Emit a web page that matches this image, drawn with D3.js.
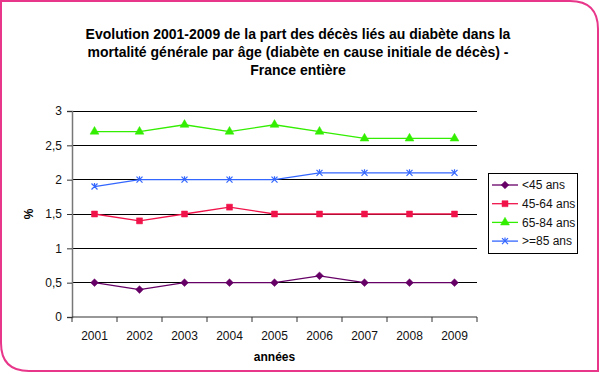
<!DOCTYPE html>
<meta charset="utf-8">
<script src="https://d3js.org/d3.v7.min.js"></script>
<style>
	body{ margin:0; background:#fff; }
	text{ font-family:"Liberation Sans", Arial, sans-serif; }
</style>
<div id="chart"></div>
<script>

// data (% of deaths linked to diabetes)
var years = ["2001","2002","2003","2004","2005","2006","2007","2008","2009"]
var seriesNames = ["<45 ans","45-64 ans","65-84 ans",">=85 ans"]
var under45 = [0.5,0.4,0.5,0.5,0.5,0.6,0.5,0.5,0.5]
var age45to64 = [1.5,1.4,1.5,1.6,1.5,1.5,1.5,1.5,1.5]
var age65to84 = [2.7,2.7,2.8,2.7,2.8,2.7,2.6,2.6,2.6]
var over85 = [1.9,2.0,2.0,2.0,2.0,2.1,2.1,2.1,2.1]
var yTicks = [0,0.5,1,1.5,2,2.5,3]
var titleLines = ["Evolution 2001-2009 de la part des décès liés au diabète dans la",
	"mortalité générale par âge (diabète en cause initiale de décès) -",
	"France entière"]

var colors = ["#660066","#F0134A","#33EE00","#3366FF"]
var symbols = ["diamond","square","triangle","x"]
var allSeries = [under45, age45to64, age65to84, over85]

const W = 600, H = 374
const plot = {left:72, right:477, top:111, bottom:317}

const svg = d3.select("#chart").append("svg")
	.attr("width",W).attr("height",H)

// pink frame, rounded top-right and bottom-left
var r = 28, x0 = 1, y0 = 1, x1 = 598, y1 = 371
svg.append("path")
	.attr("d", "M"+x0+","+y0+" L"+(x1-r)+","+y0+" Q"+x1+","+y0+" "+x1+","+(y0+r)
		+" L"+x1+","+y1+" L"+(x0+r)+","+y1+" Q"+x0+","+y1+" "+x0+","+(y1-r)+" Z")
	.attr("fill","#fff").attr("stroke","#E8368A").attr("stroke-width",2)

// title
svg.append("g").selectAll("text").data(titleLines).join("text")
	.attr("x",298).attr("y",(d,i)=>38.5+i*18.2)
	.attr("text-anchor","middle")
	.attr("font-size","14px").attr("font-weight","bold")
	.text(d=>d)

var xScale = d3.scaleBand().domain(years).range([plot.left,plot.right]).padding(0)
var yScale = d3.scaleLinear().domain([0,3]).range([plot.bottom,plot.top])
var fmt = d3.formatLocale({decimal:",",thousands:" ",grouping:[3],currency:["","€"]}).format("~g")

// gridlines
svg.append("g").selectAll("line").data(yTicks.filter(d=>d>0)).join("line")
	.attr("x1",plot.left).attr("x2",plot.right)
	.attr("y1",d=>yScale(d)).attr("y2",d=>yScale(d))
	.attr("stroke","#000").attr("stroke-width",1)
	.attr("shape-rendering","crispEdges")

// y axis
var yAxis = d3.axisLeft(yScale).tickValues(yTicks).tickSize(5).tickPadding(5).tickFormat(fmt)
var gy = svg.append("g").attr("transform","translate("+plot.left+",0)").call(yAxis)
gy.select(".domain").attr("stroke","#777").attr("stroke-width",1.5)
gy.selectAll(".tick line").attr("stroke","#333")
gy.selectAll("text").attr("font-size","12px").attr("fill","#111")
	.attr("font-family","Liberation Sans, Arial, sans-serif")

// x axis: ticks between categories, labels centred
var gx = svg.append("g").attr("transform","translate(0,"+plot.bottom+")")
gx.append("line").attr("x1",plot.left).attr("x2",plot.right)
	.attr("stroke","#333").attr("stroke-width",1.2)
var bounds = years.map(d=>xScale(d)).concat([xScale.range()[1]])
gx.selectAll(".xt").data(bounds).join("line").attr("class","xt")
	.attr("x1",d=>d).attr("x2",d=>d).attr("y1",0).attr("y2",5)
	.attr("stroke","#333")
gx.selectAll(".xl").data(years).join("text").attr("class","xl")
	.attr("x",d=>xScale(d)+xScale.bandwidth()/2).attr("y",23)
	.attr("text-anchor","middle").attr("font-size","12px").attr("fill","#111")
	.text(d=>d)

svg.append("text").attr("x",(plot.left+plot.right)/2).attr("y",361)
	.attr("text-anchor","middle").attr("font-size","12px").attr("font-weight","bold")
	.text("années")
svg.append("text").attr("transform","translate(33,214) rotate(-90)")
	.attr("text-anchor","middle").attr("font-size","12px").attr("font-weight","bold")
	.text("%")

function markerPath(type){
	if(type=="diamond") return d3.symbol(d3.symbolDiamond2,38)()
	if(type=="square") return d3.symbol(d3.symbolSquare,36)()
	if(type=="triangle") return d3.symbol(d3.symbolTriangle,34)()
	return "M-3,-3L3,3M-3,3L3,-3M0,-3.5L0,-1"
}

var line = d3.line()
	.x((d,i)=>xScale(years[i])+xScale.bandwidth()/2)
	.y(d=>yScale(d))

allSeries.forEach(function(vals,s){
	var g = svg.append("g")
	g.append("path").datum(vals)
		.attr("d",line).attr("fill","none")
		.attr("stroke",colors[s]).attr("stroke-width",1.3)
	g.selectAll("path.mk").data(vals).join("path").attr("class","mk")
		.attr("transform",(d,i)=>"translate("+(xScale(years[i])+xScale.bandwidth()/2)+","+yScale(d)+")")
		.attr("d",markerPath(symbols[s]))
		.attr("fill",symbols[s]=="x"?"none":colors[s])
		.attr("stroke",colors[s]).attr("stroke-width",symbols[s]=="x"?1.2:0.5)
})

// legend
var lg = svg.append("g").attr("transform","translate(488,173)")
lg.append("rect").attr("width",89).attr("height",80)
	.attr("fill","#fff").attr("stroke","#000").attr("stroke-width",1)
	.attr("shape-rendering","crispEdges")
seriesNames.forEach(function(name,s){
	var cy = 12 + s*18.7
	lg.append("line").attr("x1",4).attr("x2",30).attr("y1",cy).attr("y2",cy)
		.attr("stroke",colors[s]).attr("stroke-width",1.3)
	lg.append("path").attr("transform","translate(17,"+cy+")")
		.attr("d",markerPath(symbols[s]))
		.attr("fill",symbols[s]=="x"?"none":colors[s])
		.attr("stroke",colors[s]).attr("stroke-width",symbols[s]=="x"?1.2:0.5)
	lg.append("text").attr("x",34).attr("y",cy+4.3)
		.attr("font-size","12px").attr("fill","#111").text(name)
})

</script>
